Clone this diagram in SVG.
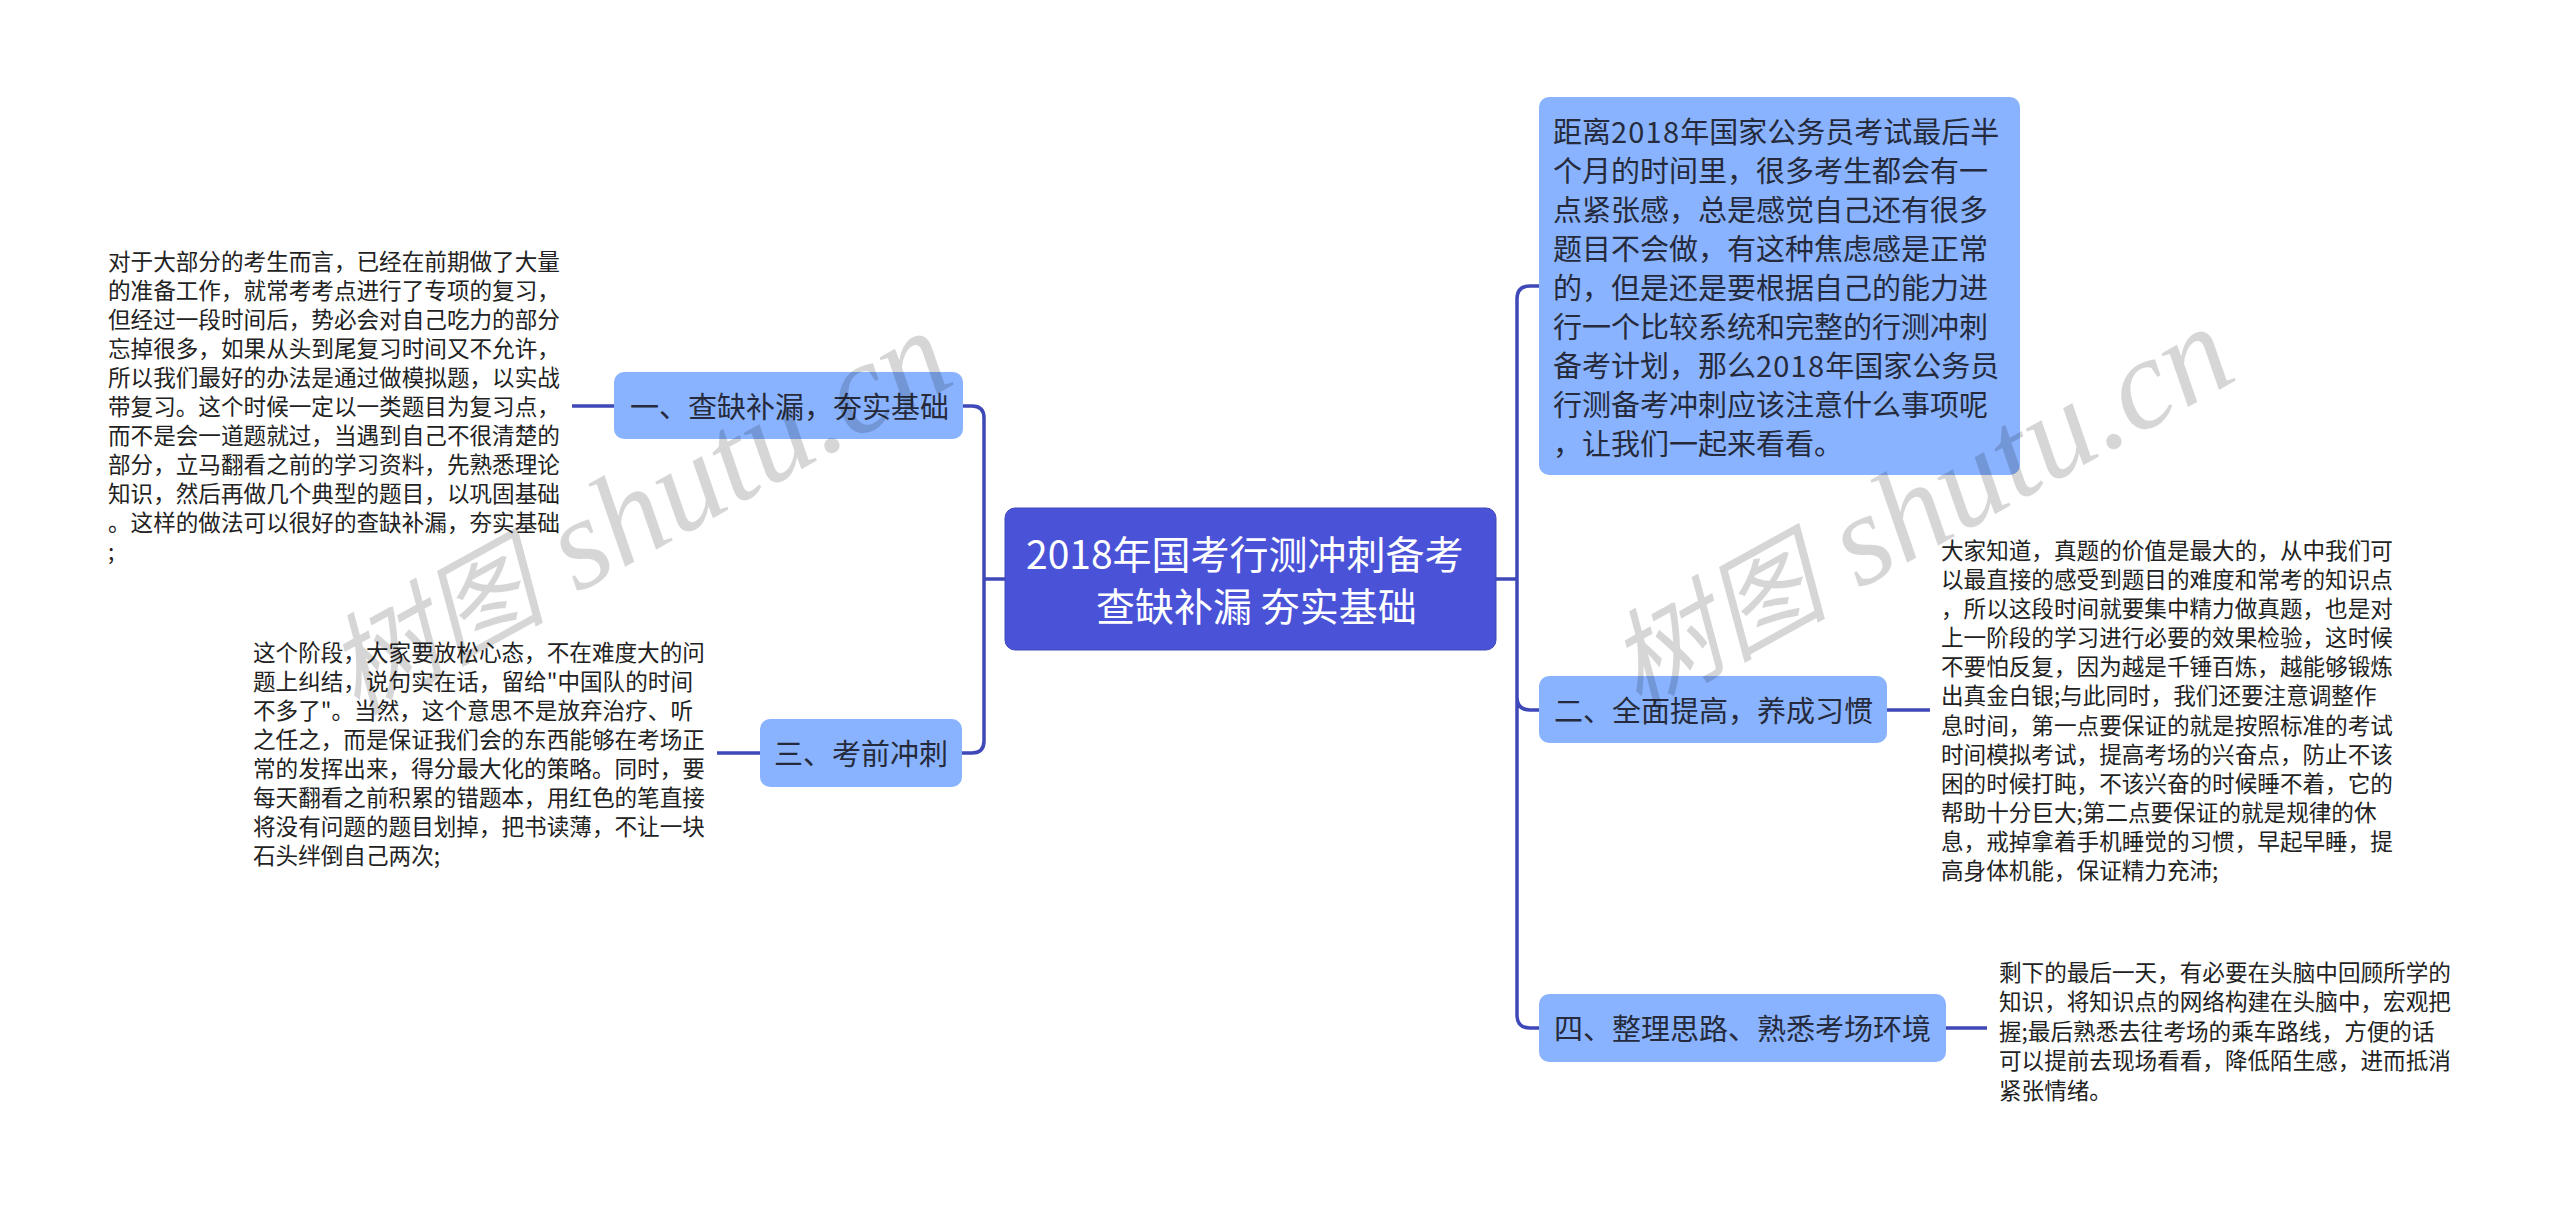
<svg xmlns="http://www.w3.org/2000/svg" width="2560" height="1209" viewBox="0 0 2560 1209">
<style>
text{font-family:"Noto Sans CJK SC","Liberation Sans",sans-serif;dominant-baseline:central}
.d{font-size:22.6px;fill:#222;transform:translateY(-1.5px)}
.n{font-size:29px;fill:#252b3c;transform:translateY(-1.5px)}
.c{font-size:39px;fill:#fff;transform:translateY(-1.5px)}
.y{letter-spacing:1.2px}
.b{fill:#8ab3ff}
.l{fill:none;stroke:#3f48b8;stroke-width:3.5}
.w{font-family:"Liberation Serif","Noto Sans CJK SC",serif;font-style:italic;font-size:130px;fill:#000;fill-opacity:.16;dominant-baseline:alphabetic}
.w .h{font-family:"Noto Sans CJK SC",serif;font-size:110px}
</style>
<rect width="2560" height="1209" fill="#fff"/>
<g id="connectors">
<path class="l" d="M1005 579H984M984 741V418Q984 406 972 406H963M984 741Q984 753 972 753H962M572 406H614M717 753H760"/>
<path class="l" d="M1496 579H1517M1539 286H1530Q1517 286 1517 299V1015Q1517 1028 1530 1028H1539M1517 697Q1517 710 1530 710H1539M1887 710H1930M1946 1028H1987"/>
</g>
<g id="root"><rect x="1005" y="508" width="491" height="142" rx="10" fill="#4a53d8" stroke="#3f48b8" stroke-width="1"/>
<text class="c" x="1026" y="553">2018年国考行测冲刺备考</text><text class="c" x="1096" y="605">查缺补漏 夯实基础</text></g>
<g id="n1"><rect class="b" x="614" y="372" width="349" height="67" rx="10"/><text class="n" x="630" y="406">一、查缺补漏，夯实基础</text></g>
<g id="n1d"><text class="d" x="108" y="262">对于大部分的考生而言，已经在前期做了大量</text><text class="d" x="108" y="291">的准备工作，就常考考点进行了专项的复习，</text><text class="d" x="108" y="320">但经过一段时间后，势必会对自己吃力的部分</text><text class="d" x="108" y="349">忘掉很多，如果从头到尾复习时间又不允许，</text><text class="d" x="108" y="378">所以我们最好的办法是通过做模拟题，以实战</text><text class="d" x="108" y="407">带复习。这个时候一定以一类题目为复习点，</text><text class="d" x="108" y="436">而不是会一道题就过，当遇到自己不很清楚的</text><text class="d" x="108" y="465">部分，立马翻看之前的学习资料，先熟悉理论</text><text class="d" x="108" y="494">知识，然后再做几个典型的题目，以巩固基础</text><text class="d" x="108" y="523">。这样的做法可以很好的查缺补漏，夯实基础</text><text class="d" x="108" y="552">;</text></g>
<g id="n3"><rect class="b" x="760" y="719" width="202" height="68" rx="10"/><text class="n" x="774" y="753">三、考前冲刺</text></g>
<g id="n3d"><text class="d" x="253" y="653">这个阶段，大家要放松心态，不在难度大的问</text><text class="d" x="253" y="682">题上纠结，说句实在话，留给"中国队的时间</text><text class="d" x="253" y="711">不多了"。当然，这个意思不是放弃治疗、听</text><text class="d" x="253" y="740">之任之，而是保证我们会的东西能够在考场正</text><text class="d" x="253" y="769">常的发挥出来，得分最大化的策略。同时，要</text><text class="d" x="253" y="798">每天翻看之前积累的错题本，用红色的笔直接</text><text class="d" x="253" y="827">将没有问题的题目划掉，把书读薄，不让一块</text><text class="d" x="253" y="856">石头绊倒自己两次;</text></g>
<g id="intro"><rect class="b" x="1539" y="97" width="481" height="378" rx="10"/>
<text class="n" x="1553" y="131">距离<tspan class="y">2018</tspan>年国家公务员考试最后半</text><text class="n" x="1553" y="170">个月的时间里，很多考生都会有一</text><text class="n" x="1553" y="209">点紧张感，总是感觉自己还有很多</text><text class="n" x="1553" y="248">题目不会做，有这种焦虑感是正常</text><text class="n" x="1553" y="287">的，但是还是要根据自己的能力进</text><text class="n" x="1553" y="326">行一个比较系统和完整的行测冲刺</text><text class="n" x="1553" y="365">备考计划，那么<tspan class="y">2018</tspan>年国家公务员</text><text class="n" x="1553" y="404">行测备考冲刺应该注意什么事项呢</text><text class="n" x="1553" y="443">，让我们一起来看看。</text></g>
<g id="n2"><rect class="b" x="1539" y="676" width="348" height="67" rx="10"/><text class="n" x="1554" y="710">二、全面提高，养成习惯</text></g>
<g id="n2d"><text class="d" x="1941" y="551">大家知道，真题的价值是最大的，从中我们可</text><text class="d" x="1941" y="580">以最直接的感受到题目的难度和常考的知识点</text><text class="d" x="1941" y="609">，所以这段时间就要集中精力做真题，也是对</text><text class="d" x="1941" y="638">上一阶段的学习进行必要的效果检验，这时候</text><text class="d" x="1941" y="667">不要怕反复，因为越是千锤百炼，越能够锻炼</text><text class="d" x="1941" y="696">出真金白银;与此同时，我们还要注意调整作</text><text class="d" x="1941" y="726">息时间，第一点要保证的就是按照标准的考试</text><text class="d" x="1941" y="755">时间模拟考试，提高考场的兴奋点，防止不该</text><text class="d" x="1941" y="784">困的时候打盹，不该兴奋的时候睡不着，它的</text><text class="d" x="1941" y="813">帮助十分巨大;第二点要保证的就是规律的休</text><text class="d" x="1941" y="842">息，戒掉拿着手机睡觉的习惯，早起早睡，提</text><text class="d" x="1941" y="871">高身体机能，保证精力充沛;</text></g>
<g id="n4"><rect class="b" x="1539" y="994" width="407" height="68" rx="10"/><text class="n" x="1554" y="1028">四、整理思路、熟悉考场环境</text></g>
<g id="n4d"><text class="d" x="1999" y="973">剩下的最后一天，有必要在头脑中回顾所学的</text><text class="d" x="1999" y="1002">知识，将知识点的网络构建在头脑中，宏观把</text><text class="d" x="1999" y="1032">握;最后熟悉去往考场的乘车路线，方便的话</text><text class="d" x="1999" y="1061">可以提前去现场看看，降低陌生感，进而抵消</text><text class="d" x="1999" y="1091">紧张情绪。</text></g>
<text class="w" transform="translate(356 716) rotate(-29)"><tspan class="h">树图</tspan> shutu.cn</text>
<text class="w" transform="translate(1638 712) rotate(-29)"><tspan class="h">树图</tspan> shutu.cn</text>
</svg>
